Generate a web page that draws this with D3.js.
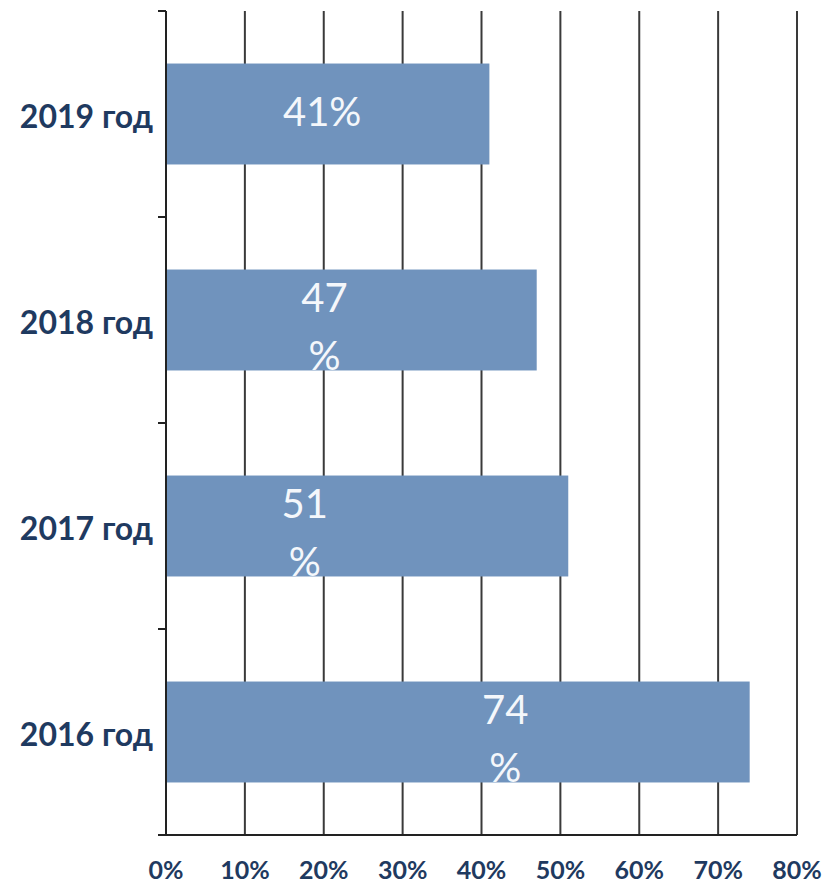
<!DOCTYPE html>
<meta charset="utf-8">
<style>
  body { margin: 0; background: #fff; }
  .cat text { font: bold 32px Lato, "Open Sans", sans-serif; fill: #1f3a60; }
  .xlab text { font: bold 25px Lato, "Open Sans", sans-serif; fill: #1f3a60; }
  .val { font: 40px Lato, "Open Sans", sans-serif; fill: #f4f7fb; text-anchor: middle; }
</style>
<svg width="831" height="883"></svg>
<script src="https://d3js.org/d3.v7.min.js"></script>
<script>
  // data
  var years = ["2019 год", "2018 год", "2017 год", "2016 год"];
  var values = [41, 47, 51, 74];
  // label text as shown (some wrapped onto two lines)
  var labelLines = [["41%"], ["47", "%"], ["51", "%"], ["74", "%"]];
  // where the label sits along the bar, in percent units
  var labelAt = [19.8, 20.1, 17.6, 43];
  var ticks = [0, 10, 20, 30, 40, 50, 60, 70, 80];

  var margin = {top: 11, right: 34, bottom: 48, left: 166},
      width = 831 - margin.left - margin.right,
      height = 883 - margin.top - margin.bottom;

  var svg = d3.select("svg")
    .append("g").attr("transform", "translate(" + margin.left + "," + margin.top + ")");

  var x = d3.scaleLinear().domain([0, 80]).range([0, width]);
  var y = d3.scaleBand().domain(years).range([0, height]).paddingInner(0.51).paddingOuter(0.255);

  // vertical grid lines
  svg.selectAll(".grid")
    .data(ticks.slice(1))
    .enter().append("line")
      .attr("x1", function(d) { return x(d); })
      .attr("x2", function(d) { return x(d); })
      .attr("y1", 0)
      .attr("y2", height)
      .attr("stroke", "#3a3a3a")
      .attr("stroke-width", 2);

  // bars
  svg.selectAll(".bar")
    .data(values)
    .enter().append("rect")
      .attr("x", 0)
      .attr("y", function(d, i) { return y(years[i]); })
      .attr("width", function(d) { return x(d); })
      .attr("height", y.bandwidth())
      .attr("fill", "#7093bd");

  // value labels
  svg.selectAll(".val")
    .data(labelLines)
    .enter().append("text")
      .attr("class", "val")
      .attr("x", function(d, i) { return x(labelAt[i]); })
      .attr("y", function(d, i) {
        var c = y(years[i]) + y.bandwidth() / 2;
        return d.length > 1 ? c - 8 : c + 12;
      })
      .each(function(d, i) {
        var t = d3.select(this);
        d.forEach(function(s, k) {
          t.append("tspan")
            .attr("x", x(labelAt[i]))
            .attr("dy", k ? 58 : 0)
            .text(s);
        });
      });

  // category axis (ticks between bands)
  svg.append("line")
    .attr("x1", 0).attr("x2", 0).attr("y1", 0).attr("y2", height)
    .attr("stroke", "#222").attr("stroke-width", 2);
  svg.selectAll(".ctick")
    .data(d3.range(years.length + 1))
    .enter().append("line")
      .attr("x1", -8).attr("x2", 0)
      .attr("y1", function(d) { return d * height / years.length; })
      .attr("y2", function(d) { return d * height / years.length; })
      .attr("stroke", "#222").attr("stroke-width", 2);

  svg.append("g").attr("class", "cat")
    .selectAll("text")
    .data(years)
    .enter().append("text")
      .attr("x", -13)
      .attr("y", function(d) { return y(d) + y.bandwidth() / 2; })
      .attr("dy", "0.45em")
      .attr("text-anchor", "end")
      .text(function(d) { return d; });

  // bottom axis line
  svg.append("line")
    .attr("x1", -8).attr("x2", width).attr("y1", height).attr("y2", height)
    .attr("stroke", "#222").attr("stroke-width", 2);

  svg.append("g").attr("class", "xlab")
    .selectAll("text")
    .data(ticks)
    .enter().append("text")
      .attr("x", function(d) { return x(d); })
      .attr("y", height + 44)
      .attr("text-anchor", "middle")
      .text(function(d) { return d + "%"; });
</script>
